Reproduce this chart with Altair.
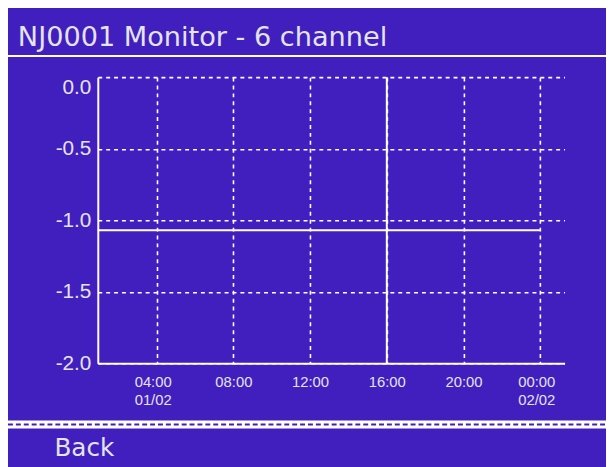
import altair as alt
import pandas as pd

# ---- data ----
series_time = ["2024-02-01T00:56:00Z", "2024-02-02T00:00:00Z"]
series_value = [-1.07, -1.07]
cursor_time = ["2024-02-01T16:00:00Z"]
y_ticks = [-2.0, -1.5, -1.0, -0.5, 0.0]
x_tick_hours = [(1, 4), (1, 8), (1, 12), (1, 16), (1, 20), (2, 0)]
title_text = "NJ0001 Monitor - 6 channel"
footer_text = "Back"

PURPLE = "#411EBE"
TXT = "#E4E4EE"

line_df = pd.DataFrame({"t": series_time, "v": series_value})
cursor_df = pd.DataFrame({"t": cursor_time})

x_scale = alt.Scale(
    type="utc",
    domain=[
        alt.DateTime(year=2024, month=2, date=1, hours=0, minutes=56, utc=True),
        alt.DateTime(year=2024, month=2, date=2, hours=1, minutes=16, utc=True),
    ],
)
y_scale = alt.Scale(domain=[-2, 0], nice=False, zero=False)

x_vals = [alt.DateTime(year=2024, month=2, date=d, hours=h, utc=True) for d, h in x_tick_hours]

two_line = "(utchours(datum.value)==4 && utcdate(datum.value)==1) || utchours(datum.value)==0"
label_expr = (
    two_line + " ? [utcFormat(datum.value,'%H:%M'), utcFormat(datum.value,'%d/%m')] "
    ": utcFormat(datum.value,'%H:%M')"
)

x_axis = alt.Axis(
    values=x_vals,
    labelExpr=label_expr,
    title=None,
    grid=True,
    gridColor="white",
    gridDash=[4, 4],
    gridWidth=1.6,
    domainColor="white",
    domainWidth=2,
    ticks=False,
    labelColor=TXT,
    labelFont="Liberation Sans",
    labelFontSize=15,
    labelBaseline="top",
    labelPadding=11,
    labelLineHeight=19,
    labelOffset=alt.condition(two_line, alt.value(-4), alt.value(0)),
)
y_axis = alt.Axis(
    values=y_ticks,
    labelExpr="replace(format(datum.value, '.1f'), '\u2212', '-')",
    title=None,
    grid=True,
    gridColor="white",
    gridDash=[4, 4],
    gridWidth=1.6,
    domainColor="white",
    domainWidth=2,
    ticks=False,
    labelColor=TXT,
    labelFont="Liberation Sans",
    labelFontSize=21,
    labelPadding=7,
    labelBaseline=alt.condition("datum.value == 0", alt.value("top"), alt.value("middle")),
)

base_axes = alt.Chart(line_df).mark_line(color="white", strokeWidth=2).encode(
    x=alt.X("t:T", scale=x_scale, axis=x_axis),
    y=alt.Y("v:Q", scale=y_scale, axis=y_axis),
)

cursor = alt.Chart(cursor_df).mark_rule(color="white", strokeWidth=2).encode(
    x=alt.X("t:T", scale=x_scale),
    y=alt.value(0),
    y2=alt.value(290),
)

# header / footer decorations
title_mark = alt.Chart(pd.DataFrame({"s": [title_text]})).mark_text(
    align="left", baseline="alphabetic", font="DejaVu Sans", fontSize=27.5, color=TXT
).encode(x=alt.value(-81), y=alt.value(-32), text="s:N")

title_rule = alt.Chart(pd.DataFrame({"a": [0]})).mark_rule(color="white", strokeWidth=2).encode(
    x=alt.value(-91), x2=alt.value(515), y=alt.value(-21.5)
)

sep_white = alt.Chart(pd.DataFrame({"a": [0]})).mark_rule(color="white", strokeWidth=8).encode(
    x=alt.value(-91), x2=alt.value(515), y=alt.value(352)
)
sep_blue = alt.Chart(pd.DataFrame({"a": [0]})).mark_rule(
    color=PURPLE, strokeWidth=2, strokeDash=[5, 3]
).encode(x=alt.value(-91), x2=alt.value(515), y=alt.value(352))

footer_mark = alt.Chart(pd.DataFrame({"s": [footer_text]})).mark_text(
    align="left", baseline="alphabetic", font="DejaVu Sans", fontSize=25, color=TXT
).encode(x=alt.value(-44), y=alt.value(384), text="s:N")

chart = alt.layer(
    base_axes, cursor, title_mark, title_rule, sep_white, sep_blue, footer_mark
).properties(
    width=473,
    height=290,
    background=PURPLE,
    padding={"left": 91, "top": 67, "right": 42, "bottom": 102},
    autosize=alt.AutoSizeParams(type="none"),
).configure_view(stroke=None)

chart.save("out.html", embed_options={"renderer": "svg", "actions": False})
